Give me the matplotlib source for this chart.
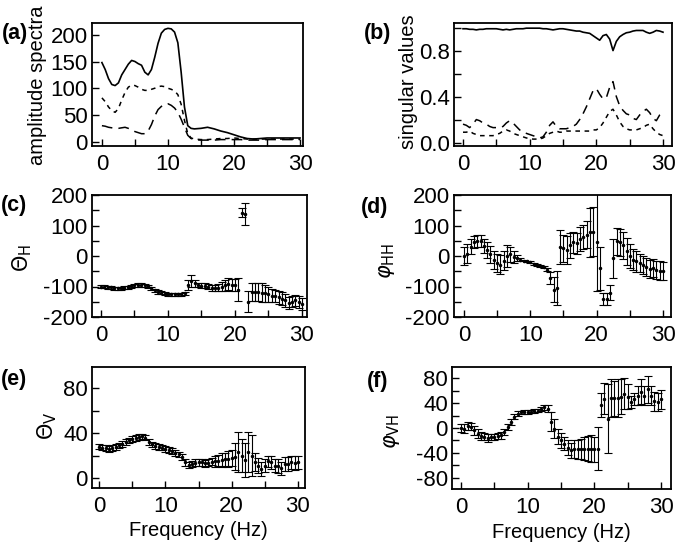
import numpy as np
import matplotlib
matplotlib.use("Agg")
import matplotlib.pyplot as plt

# ---- data ----
amp_f = [0, 0.5, 1, 1.5, 2, 2.5, 3, 3.5, 4, 4.5, 5, 5.5, 6, 6.5, 7, 7.5, 8, 8.5, 9, 9.5,
         10, 10.5, 11, 11.5, 12, 12.5, 13, 13.5, 14, 15, 16, 17, 18, 19, 20, 21, 22, 23,
         24, 25, 26, 27, 28, 29, 30]
amp_1 = [148, 135, 118, 107, 105, 110, 125, 135, 145, 152, 150, 146, 143, 130, 125, 135,
         158, 184, 203, 210, 212, 211, 205, 185, 130, 65, 30, 25, 24, 25, 27, 24, 20, 17,
         13, 9, 6, 5, 6, 7, 7, 7, 7, 7, 7]
amp_2 = [82, 75, 65, 58, 55, 62, 78, 92, 102, 106, 105, 102, 98, 96, 96, 98, 100, 103,
         104, 103, 100, 98, 95, 88, 70, 40, 15, 7, 5, 4, 4, 5, 6, 6, 7, 6, 5, 5, 5, 5, 5,
         5, 5, 5, 5]
amp_3 = [30, 29, 27, 26, 25, 25, 26, 27, 25, 22, 19, 17, 15, 15, 20, 32, 48, 60, 66, 70,
         71, 68, 63, 55, 42, 27, 12, 6, 4, 3, 3, 3, 4, 4, 4, 4, 3, 3, 3, 4, 4, 4, 4, 4, 4]

freq = [0, 0.5, 1, 1.5, 2, 2.5, 3, 3.5, 4, 4.5, 5, 5.5, 6, 6.5, 7, 7.5, 8, 8.5, 9, 9.5,
        10, 10.5, 11, 11.5, 12, 12.5, 13, 13.5, 14, 14.5, 15, 15.5, 16, 16.5, 17, 17.5,
        18, 18.5, 19, 19.5, 20, 20.5, 21, 21.5, 22, 22.5, 23, 23.5, 24, 24.5, 25, 25.5,
        26, 26.5, 27, 27.5, 28, 28.5, 29, 29.5, 30]

sv_1 = [0.99, 0.99, 0.985, 0.985, 0.98, 0.985, 0.985, 0.99, 0.99, 0.99, 0.99, 0.985,
        0.98, 0.985, 0.98, 0.985, 0.99, 0.99, 0.99, 0.995, 0.995, 0.995, 0.995, 0.995,
        0.99, 0.99, 0.985, 0.98, 0.985, 0.99, 0.99, 0.985, 0.98, 0.975, 0.97, 0.97, 0.96,
        0.955, 0.95, 0.93, 0.91, 0.89, 0.93, 0.94, 0.90, 0.80, 0.88, 0.92, 0.94, 0.955,
        0.96, 0.97, 0.975, 0.975, 0.975, 0.96, 0.95, 0.96, 0.975, 0.97, 0.96]
sv_2 = [0.16, 0.15, 0.13, 0.16, 0.20, 0.19, 0.17, 0.16, 0.14, 0.13, 0.13, 0.13, 0.14,
        0.17, 0.19, 0.17, 0.14, 0.11, 0.09, 0.08, 0.07, 0.06, 0.05, 0.04, 0.05, 0.09,
        0.15, 0.18, 0.14, 0.12, 0.12, 0.12, 0.13, 0.14, 0.16, 0.20, 0.25, 0.31, 0.38,
        0.45, 0.47, 0.42, 0.38, 0.39, 0.48, 0.53, 0.40, 0.32, 0.28, 0.25, 0.24, 0.21,
        0.20, 0.24, 0.27, 0.29, 0.26, 0.21, 0.19, 0.24, 0.27]
sv_3 = [0.09, 0.09, 0.10, 0.08, 0.07, 0.06, 0.06, 0.06, 0.06, 0.06, 0.07, 0.08, 0.10,
        0.11, 0.10, 0.08, 0.07, 0.06, 0.05, 0.04, 0.035, 0.03, 0.03, 0.03, 0.04, 0.06,
        0.08, 0.09, 0.10, 0.09, 0.09, 0.10, 0.10, 0.10, 0.10, 0.10, 0.10, 0.10, 0.10,
        0.11, 0.11, 0.13, 0.17, 0.22, 0.27, 0.29, 0.24, 0.18, 0.14, 0.12, 0.11, 0.11,
        0.11, 0.12, 0.13, 0.15, 0.16, 0.12, 0.09, 0.07, 0.06]

theta_h = [-100, -101, -102, -103, -105, -105, -105, -104, -102, -99, -96, -95, -95, -96,
           -99, -106, -113, -118, -121, -123, -125, -126, -126, -126, -126, -122, -95,
           -82, -90, -95, -97, -98, -100, -104, -106, -104, -100, -96, -92, -94, -96,
           -110, 142, 138, -150, -117, -117, -117, -120, -122, -126, -130, -132, -136,
           -140, -145, -155, -150, -145, -150, -158]
theta_h_err = [5, 5, 5, 5, 5, 5, 5, 5, 5, 5, 5, 5, 5, 5, 5, 5, 5, 5, 5, 5, 5, 5, 5, 5,
               5, 5, 15, 20, 12, 8, 8, 8, 8, 10, 10, 12, 15, 18, 20, 20, 20, 38, 15, 35,
               35, 30, 30, 30, 30, 28, 25, 22, 20, 20, 22, 22, 20, 18, 18, 20, 20]

phi_hh = [0, 8, 30, 45, 50, 48, 33, 20, 5, -12, -22, -28, -15, 0, 5, -2, -8, -12, -15,
          -18, -21, -25, -29, -32, -36, -45, -73, -110, -105, 30, 25, 20, 35, 45, 42, 55,
          62, 70, 78, 80, 45, -40, -140, -140, -120, -8, 48, 45, 35, 15, 0, -12, -18,
          -24, -30, -35, -42, -40, -46, -48, -50]
phi_hh_err = [30, 30, 25, 20, 20, 20, 22, 25, 28, 30, 30, 30, 30, 35, 25, 20, 10, 5, 3,
              3, 3, 3, 3, 3, 3, 5, 20, 40, 55, 55, 45, 45, 40, 35, 35, 40, 40, 45, 80,
              80, 160, 70, 20, 20, 25, 65, 45, 45, 45, 45, 40, 35, 35, 30, 30, 30, 30,
              30, 30, 30, 30]

theta_v = [28, 27, 26.5, 26, 26.5, 27.5, 29, 30.5, 32, 33.5, 35, 35.5, 36.5, 37, 36, 32,
           30, 28.5, 27.5, 27, 26, 25, 24, 22.5, 21, 18.5, 14, 11.5, 12.5, 13.5, 14, 14,
           13, 13.5, 14.5, 15, 15.5, 16, 16.5, 17, 18, 19, 23, 20, 16, 23, 20, 14, 11, 8,
           11, 15, 14, 11, 10.5, 8.5, 12.5, 12.5, 14, 13.5, 14]
theta_v_err = [2.5, 2.5, 2.5, 2.5, 2.5, 2.5, 2.5, 2.5, 2.5, 2.5, 2.5, 2.5, 2.5, 2.5, 2.5,
               2.5, 2.5, 2.5, 2.5, 2.5, 2.5, 2.5, 2.5, 2.5, 2.5, 2.5, 3, 3, 3, 3, 3, 3,
               3, 3, 3, 5, 5, 6, 6, 7, 7, 12, 18, 15, 15, 18, 18, 8, 7, 6, 6, 5, 6, 6, 6,
               6, 6, 6, 6, 6, 6]

phi_vh = [0, -1, 3, 2, -4, -9, -13, -14, -16, -15, -14, -13, -12, -6, 2, 10, 18, 23, 25,
          25.5, 26, 26.5, 27, 28, 30, 33, 31, 10, -1, -14, -20, -25, -32, -36, -34, -34,
          -33, -33, -33, -33, -34, -33, 37, 47, 15, 48, 48, 48, 50, 55, 50, 42, 47, 52,
          58, 52, 62, 52, 43, 42, 46]
phi_vh_err = [7, 7, 6, 6, 7, 7, 7, 6, 6, 5, 5, 5, 5, 5, 5, 5, 4, 4, 3, 3, 3, 3, 3, 3, 3,
              4, 6, 15, 15, 12, 12, 10, 12, 12, 14, 15, 16, 18, 20, 22, 20, 35, 20, 25,
              55, 30, 28, 30, 28, 25, 20, 10, 10, 15, 20, 15, 22, 15, 15, 15, 15]

plt.rcParams['font.family'] = ['Liberation Sans', 'DejaVu Sans']
plt.rcParams['font.size'] = 14
plt.rcParams['axes.unicode_minus'] = False
plt.rcParams['axes.linewidth'] = 1.3

W, H = 682, 545
fig = plt.figure(figsize=(W / 100, H / 100), dpi=100)


def box(l, t, r, b):
    return [l / W, 1 - b / H, (r - l) / W, (b - t) / H]


def ftext(x, y, s, **kw):
    fig.text(x / W, 1 - y / H, s, ha='center', va='center', **kw)


def setup(ax, xlim, ylim, ymaj, ymin):
    ax.set_xlim(*xlim)
    ax.set_ylim(*ylim)
    ax.set_xticks([0, 10, 20, 30])
    ax.set_xticks([5, 15, 25], minor=True)
    ax.set_yticks(ymaj)
    ax.set_yticks(ymin, minor=True)
    ax.tick_params(which='both', direction='in', length=5, width=1, colors='k')
    ax.tick_params(axis='x', pad=6, labelsize=16)
    ax.tick_params(axis='y', pad=3, labelsize=16)


def ebar(ax, y, e):
    ax.errorbar(freq, y, yerr=e, fmt='.', ms=3, color='k', ecolor='k',
                elinewidth=0.8, capsize=3, capthick=0.8)


# (a)
ax = fig.add_axes(box(92, 23, 303, 146))
ax.plot(amp_f, amp_1, 'k-', lw=1.2)
ax.plot(amp_f, amp_2, 'k-', lw=1.1, dashes=(3, 3))
ax.plot(amp_f, amp_3, 'k-', lw=1.1, dashes=(7, 4))
setup(ax, (-1.5, 30.45), (-8, 222), [0, 50, 100, 150, 200], [])
ftext(38, 85, 'amplitude spectra', rotation=90, fontsize=14.5)
ftext(15, 33, '(a)', fontweight='bold', fontsize=15.5)

# (b)
ax = fig.add_axes(box(454, 23, 672, 146))
ax.plot(freq, sv_1, 'k-', lw=1.2)
ax.plot(freq, sv_2, 'k-', lw=1.1, dashes=(6, 4))
ax.plot(freq, sv_3, 'k-', lw=1.1, dashes=(3, 3))
setup(ax, (-1.35, 31.35), (-0.03, 1.04), [0.0, 0.4, 0.8], [0.2, 0.6, 1.0])
ax.set_yticklabels(['0.0', '0.4', '0.8'])
ftext(408, 82, 'singular values', rotation=90, fontsize=14.5)
ftext(378, 33, '(b)', fontweight='bold', fontsize=15.5)

# (c)
ax = fig.add_axes(box(92, 195, 307, 317))
ebar(ax, theta_h, theta_h_err)
setup(ax, (-1.34, 30.75), (-200, 200), [-200, -100, 0, 100, 200], [-150, -50, 50, 150])
ftext(22, 258, r'$\Theta_{\rm H}$', rotation=90, fontsize=15)
ftext(14, 205, '(c)', fontweight='bold', fontsize=15.5)

# (d)
ax = fig.add_axes(box(454, 195, 671, 317))
ebar(ax, phi_hh, phi_hh_err)
setup(ax, (-1.5, 31.2), (-200, 200), [-200, -100, 0, 100, 200], [-150, -50, 50, 150])
ftext(387, 261, r'$\varphi_{\rm HH}$', rotation=90, fontsize=15)
ftext(375, 208, '(d)', fontweight='bold', fontsize=15.5)

# (e)
ax = fig.add_axes(box(92, 367, 305, 488))
ebar(ax, theta_v, theta_v_err)
setup(ax, (-1.06, 31.06), (-9, 99), [0, 40, 80], [20, 60])
ax.set_xlabel('Frequency (Hz)', fontsize=14.5, labelpad=3)
ftext(47, 426, r'$\Theta_{\rm V}$', rotation=90, fontsize=15)
ftext(14, 380, '(e)', fontweight='bold', fontsize=15.5)

# (f)
ax = fig.add_axes(box(452, 367, 671, 489))
ebar(ax, phi_vh, phi_vh_err)
setup(ax, (-1.35, 31.5), (-98, 98), [-80, -40, 0, 40, 80], [-60, -20, 20, 60])
ax.set_xlabel('Frequency (Hz)', fontsize=14.5, labelpad=3)
ftext(392, 431, r'$\varphi_{\rm VH}$', rotation=90, fontsize=15)
ftext(378, 382, '(f)', fontweight='bold', fontsize=15.5)

fig.savefig('out.png', dpi=100)
